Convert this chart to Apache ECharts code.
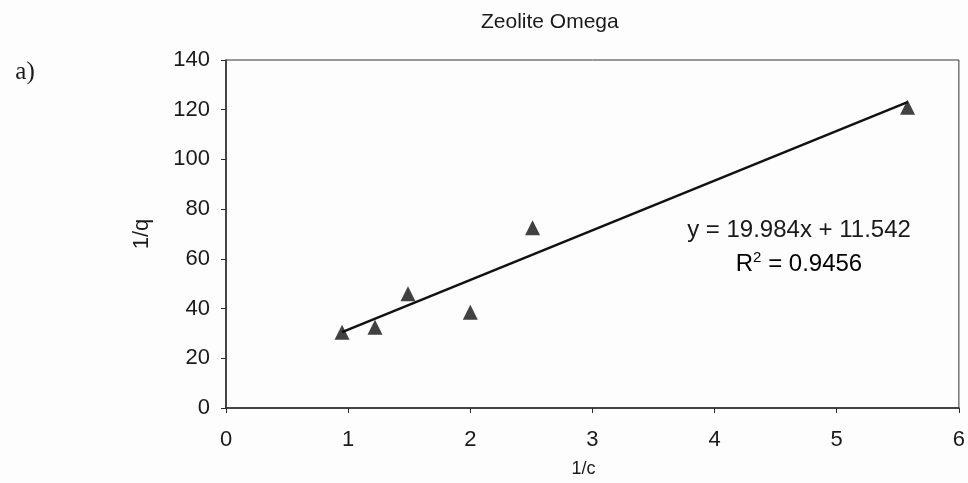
<!DOCTYPE html>
<html>
<head>
<meta charset="utf-8">
<script src="https://cdn.jsdelivr.net/npm/echarts@6/dist/echarts.min.js"></script>
<style>
  html, body { margin: 0; padding: 0; background: #fdfdfd; }
  #chart { width: 968px; height: 483px; }
</style>
</head>
<body>
<div id="chart"></div>
<script>
// Langmuir linearisation for Zeolite Omega: 1/q against 1/c
const inverseC = [0.95, 1.22, 1.49, 2.0, 2.51, 5.58];
const inverseQ = [30.5, 32.5, 46, 38.5, 72.5, 121];

// Linear trendline reported on the chart
const slope = 19.984;
const intercept = 11.542;
const rSquared = 0.9456;

const xTicks = [0, 1, 2, 3, 4, 5, 6];
const yTicks = [0, 20, 40, 60, 80, 100, 120, 140];

const points = inverseC.map((x, i) => [x, inverseQ[i]]);
const xStart = Math.min(...inverseC);
const xEnd = Math.max(...inverseC);
const trend = [
  [xStart, slope * xStart + intercept],
  [xEnd, slope * xEnd + intercept]
];

const font = 'Liberation Sans, Arial, sans-serif';
const ink = '#1a1a1a';

const chart = echarts.init(document.getElementById('chart'), null, { renderer: 'canvas' });
chart.setOption({
  backgroundColor: '#fdfdfd',
  animation: false,
  grid: {
    left: 226, right: 9, top: 60, bottom: 69,
    show: true, borderColor: '#333', borderWidth: 1, backgroundColor: 'transparent'
  },
  xAxis: {
    type: 'value',
    min: xTicks[0], max: xTicks[xTicks.length - 1], interval: 1,
    name: '1/c', nameLocation: 'middle', nameGap: 52,
    nameTextStyle: { fontFamily: font, fontSize: 18, color: ink, padding: [0, 18, 0, 0] },
    axisLine: { show: true, onZero: false, lineStyle: { color: '#2a2a2a', width: 1.5 } },
    axisTick: { show: true, inside: false, length: 5, lineStyle: { color: '#2a2a2a' } },
    axisLabel: { fontFamily: font, fontSize: 22, color: ink, margin: 21 },
    splitLine: { show: false }
  },
  yAxis: {
    type: 'value',
    min: yTicks[0], max: yTicks[yTicks.length - 1], interval: 20,
    name: '1/q', nameLocation: 'middle', nameGap: 73, nameRotate: 90,
    nameTextStyle: { fontFamily: font, fontSize: 22, color: ink },
    axisLine: { show: true, onZero: false, lineStyle: { color: '#2a2a2a', width: 1.5 } },
    axisTick: { show: true, inside: false, length: 5, lineStyle: { color: '#2a2a2a' } },
    axisLabel: { fontFamily: font, fontSize: 22, color: ink, margin: 16 },
    splitLine: { show: false }
  },
  series: [
    {
      type: 'line',
      data: trend,
      symbol: 'none',
      lineStyle: { color: '#111', width: 2.5 },
      z: 2
    },
    {
      type: 'scatter',
      data: points,
      symbol: 'triangle',
      symbolSize: 15,
      itemStyle: { color: '#111' },
      z: 3
    }
  ],
  graphic: [
    {
      type: 'text', x: 481, y: 22,
      style: {
        text: 'Zeolite Omega', fontFamily: font, fontSize: 21, fill: ink,
        align: 'left', verticalAlign: 'middle'
      }
    },
    {
      type: 'text', x: 25, y: 72,
      style: {
        text: 'a)', fontFamily: 'Liberation Serif, Times New Roman, serif', fontSize: 25, fill: ink,
        align: 'center', verticalAlign: 'middle'
      }
    },
    {
      type: 'text', x: 799, y: 230,
      style: {
        text: 'y = ' + slope.toFixed(3) + 'x + ' + intercept.toFixed(3),
        fontFamily: font, fontSize: 24, fill: ink, align: 'center', verticalAlign: 'middle'
      }
    },
    {
      type: 'text', x: 799, y: 264,
      style: {
        text: '{r|R}{s|2}{r| = ' + rSquared.toFixed(4) + '}',
        align: 'center', verticalAlign: 'middle',
        rich: {
          r: { fontFamily: font, fontSize: 24, color: ink },
          s: { fontFamily: font, fontSize: 15, color: ink, verticalAlign: 'top', padding: [0, 0, 12, 0] }
        }
      }
    }
  ]
});
</script>
</body>
</html>
